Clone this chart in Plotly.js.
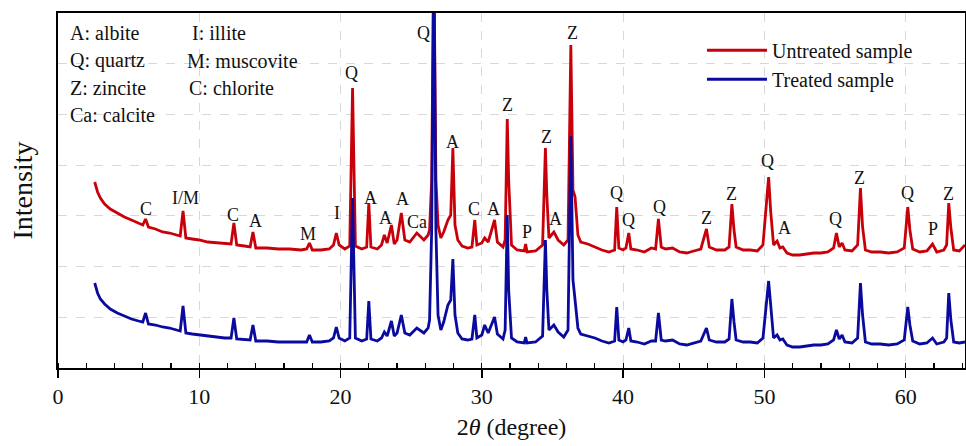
<!DOCTYPE html>
<html>
<head>
<meta charset="utf-8">
<script src="https://cdn.plot.ly/plotly-3.0.1.min.js"></script>
<style>html,body{margin:0;padding:0;background:#fff;}#chart{width:966px;height:446px;}</style>
</head>
<body>
<div id="chart"></div>
<script>
// 2θ (degree) and intensity (a.u.)
var untreatedX = [2.6,2.8,3.0,3.3,3.7,4.2,4.7,5.2,5.7,6.0,6.2,6.4,6.9,7.4,7.9,8.4,8.65,8.85,9.05,9.5,10.0,10.6,11.2,11.8,12.25,12.45,12.65,13.2,13.6,13.8,14.0,14.8,15.6,16.4,17.2,17.6,17.8,18.0,18.6,19.2,19.5,19.7,19.9,20.3,20.65,20.85,21.05,21.5,21.85,22.0,22.15,22.6,22.9,23.1,23.3,23.6,23.8,24.0,24.3,24.55,24.9,25.4,25.9,26.2,26.3,26.45,26.6,26.75,26.9,27.1,27.3,27.6,27.8,27.95,28.1,28.3,28.6,29.0,29.3,29.5,29.65,30.0,30.2,30.45,30.9,31.1,31.5,31.65,31.8,31.9,32.1,32.5,33.0,33.1,33.2,33.8,34.3,34.5,34.6,34.75,35.1,35.4,35.8,36.1,36.3,36.45,36.6,36.8,37.0,37.5,38.0,38.5,39.0,39.4,39.55,39.7,40.0,40.2,40.4,40.55,41.0,41.5,42.0,42.3,42.5,42.7,43.0,43.5,44.0,44.5,45.0,45.5,45.9,46.1,46.6,47.2,47.5,47.7,47.85,48.0,48.5,49.0,49.5,49.9,50.3,50.45,50.65,50.9,51.1,51.3,51.6,52.0,52.5,53.0,53.5,54.0,54.5,54.9,55.1,55.3,55.5,55.7,56.2,56.6,56.8,56.95,57.15,57.6,58.2,58.8,59.4,59.9,60.15,60.3,60.5,61.0,61.5,61.9,62.2,62.7,62.9,63.05,63.2,63.4,63.8,64.2];
var untreatedY = [186,176,170,164,159,155,151,148,145,143,149,141,139,136,135,133,132,157,130,129,128,126,125,124,124,145,123,122,121,136,120,120,119,119,118,119,125,118,118,119,123,135,123,119,122,280,122,119,121,165,121,119,123,133,125,143,124,128,155,128,126,135,128,133,138,188,420,188,143,130,136,148,153,220,143,128,122,120,121,148,123,125,130,126,148,126,121,128,249,188,123,118,117,124,116,117,123,220,173,130,136,128,123,128,323,178,171,133,126,124,121,118,116,118,161,120,118,120,135,119,118,116,120,119,149,121,119,120,116,115,117,119,139,121,118,118,121,164,138,121,118,118,117,123,191,156,123,127,120,121,115,113,113,114,115,115,116,120,135,121,125,118,117,123,180,141,118,116,116,115,116,120,161,138,119,116,117,124,116,118,123,165,140,118,117,123];
var treatedX = untreatedX;
var treatedY = [85,75,69,64,59,55,52,49,47,46,55,44,43,41,40,38,37,62,35,34,33,32,31,30,30,50,29,28,28,43,27,27,26,26,26,26,33,26,26,27,30,41,30,27,30,170,30,27,29,67,29,27,30,36,32,47,32,35,53,35,33,40,35,40,48,138,420,138,53,38,46,63,68,109,53,35,29,28,29,53,30,33,43,35,51,34,29,38,153,78,30,26,25,31,25,26,32,128,78,38,43,36,31,38,232,88,68,40,34,32,30,27,25,27,61,28,26,28,40,27,26,24,27,27,55,28,27,28,24,23,25,27,40,28,26,26,29,69,46,28,26,26,25,30,87,61,30,33,28,29,23,21,21,22,23,23,24,28,38,29,33,26,25,30,85,53,26,24,24,23,24,28,61,43,27,24,25,30,24,26,30,75,48,26,25,26];

// peak labels
var labelText = ['C','I/M','C','A','M','I','Q','A','A','A','Ca','Q','A','C','A','Z','P','Z','A','Z','Q','Q','Q','Z','Z','Q','A','Q','Z','Q','P','Z'];
var labelX = [6.2,9.05,12.4,13.95,17.7,19.75,20.8,22.1,23.2,24.35,25.4,25.85,27.95,29.45,30.85,31.8,33.2,34.55,35.2,36.4,39.55,40.4,42.55,45.9,47.7,50.2,51.4,55.05,56.7,60.1,61.9,63.0];
var labelY = [159,170,153,147,134,155,295,170,150,169,146,335,226,159,159,263,136,231,149,335,175,148,161,150,174,207,140,149,190,175,139,174];

// phase key
var keyLines = ['A: albite','Q: quartz','Z: zincite','Ca: calcite','I: illite','M: muscovite','C: chlorite'];
var keyX = [0.011,0.011,0.011,0.011,0.145,0.140,0.142];
var keyY = [0.944,0.866,0.790,0.713,0.944,0.866,0.790];

var serif = "'Liberation Serif', 'Times New Roman', serif";

var traces = [
  {x: untreatedX, y: untreatedY, type: 'scatter', mode: 'lines', name: 'Untreated sample',
   line: {color: '#c8000a', width: 2.8}},
  {x: treatedX, y: treatedY, type: 'scatter', mode: 'lines', name: 'Treated sample',
   line: {color: '#0a0a9e', width: 2.8}}
];

var annotations = [];
for (var i = 0; i < labelText.length; i++) {
  annotations.push({x: labelX[i], y: labelY[i], xref: 'x', yref: 'y', text: labelText[i],
    showarrow: false, xanchor: 'center', yanchor: 'middle',
    font: {family: serif, size: 18, color: '#111'}});
}
for (var j = 0; j < keyLines.length; j++) {
  annotations.push({x: keyX[j], y: keyY[j], xref: 'paper', yref: 'paper', text: keyLines[j],
    showarrow: false, xanchor: 'left', yanchor: 'middle',
    font: {family: serif, size: 20, color: '#111'}});
}

var layout = {
  width: 966, height: 446,
  margin: {l: 58, r: 1, t: 13, b: 78},
  paper_bgcolor: '#fff', plot_bgcolor: '#fff',
  font: {family: serif, color: '#111'},
  showlegend: true,
  legend: {x: 0.71, y: 0.95, xanchor: 'left', yanchor: 'top', bgcolor: 'rgba(0,0,0,0)',
    font: {family: serif, size: 20, color: '#111'}, tracegroupgap: 0, itemwidth: 60},
  xaxis: {range: [0, 64.2], dtick: 10, tick0: 0, showline: true, linecolor: '#000', linewidth: 2,
    mirror: true, ticks: 'outside', ticklen: 8, tickwidth: 1.5, tickcolor: '#000',
    minor: {dtick: 2, ticks: 'inside', ticklen: 5, tickwidth: 1.2, tickcolor: '#000', showgrid: false},
    showgrid: true, gridcolor: '#d8d8d8', griddash: 'dash', gridwidth: 1,
    tickfont: {family: serif, size: 22, color: '#111'}, zeroline: false,
    title: {text: '2<i>θ</i> (degree)', font: {family: serif, size: 24, color: '#111'}, standoff: 10}},
  yaxis: {range: [0, 355], dtick: 355/7, tick0: 0, showline: true, linecolor: '#000', linewidth: 2,
    mirror: true, ticks: '', showticklabels: false,
    showgrid: true, gridcolor: '#d8d8d8', griddash: 'dash', gridwidth: 1, zeroline: false,
    title: {text: 'Intensity', font: {family: serif, size: 28, color: '#111'}, standoff: 15}},
  annotations: annotations
};

Plotly.newPlot('chart', traces, layout, {displayModeBar: false, staticPlot: true});
</script>
</body>
</html>
